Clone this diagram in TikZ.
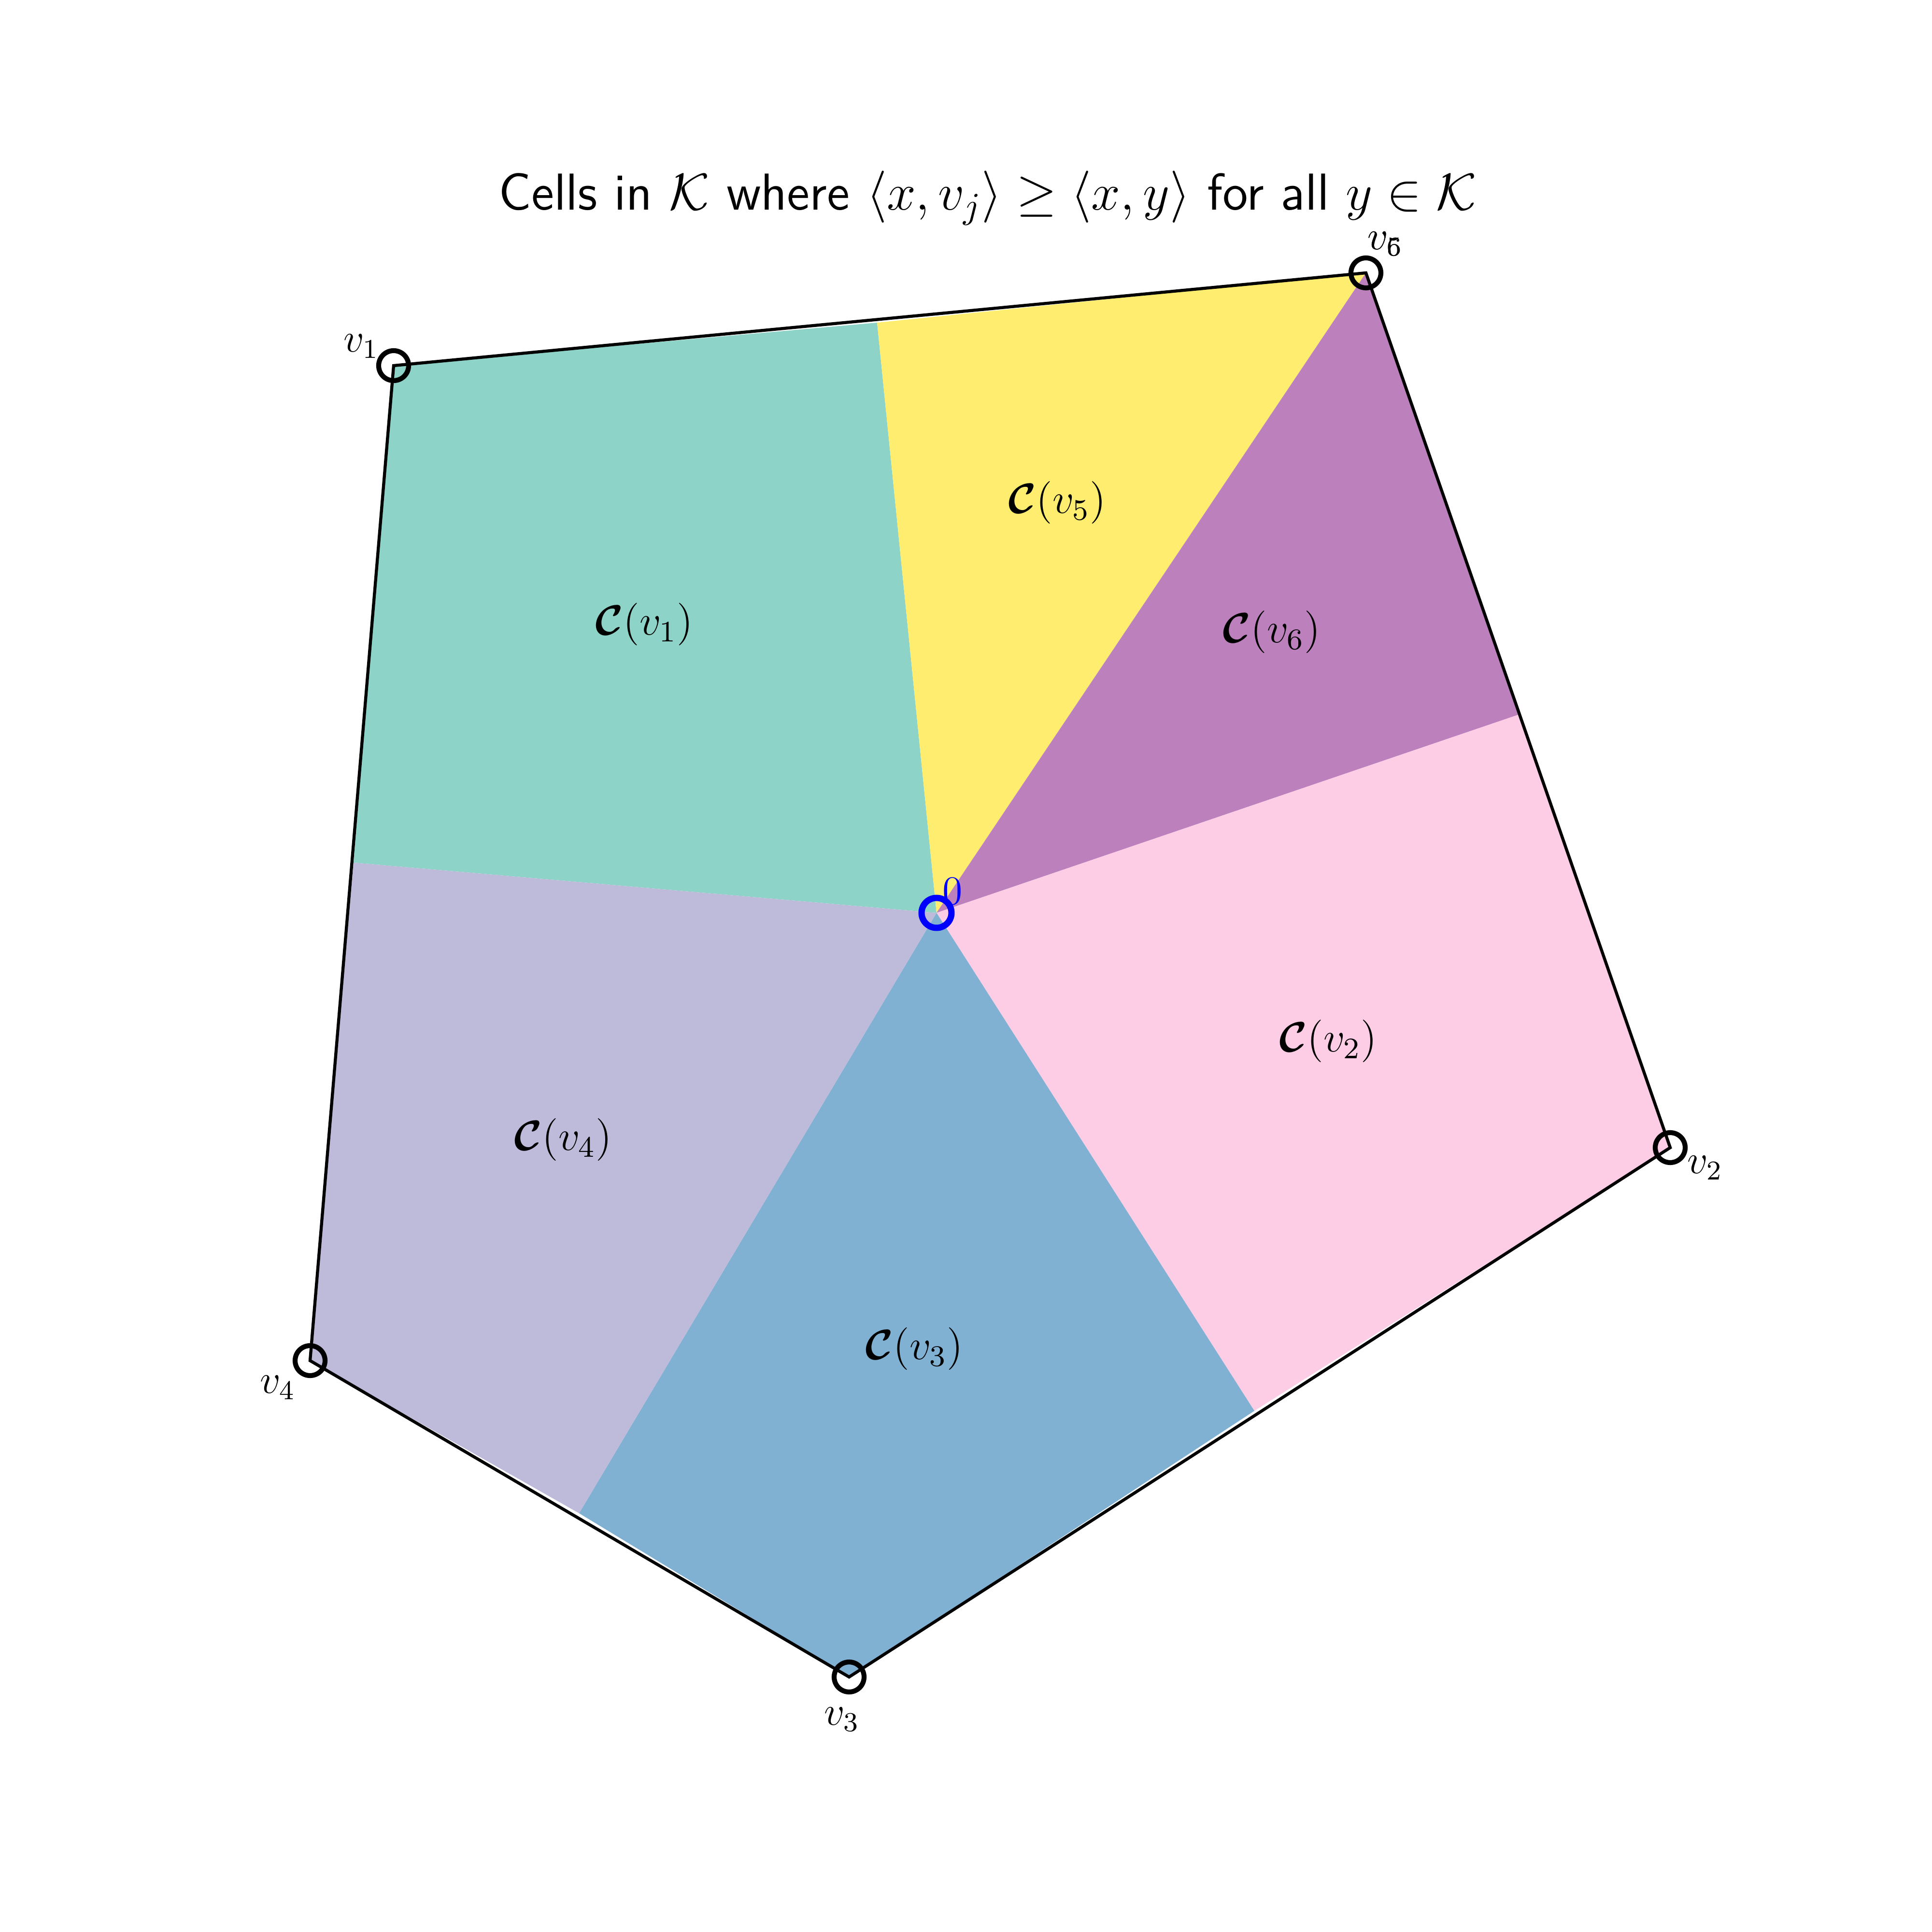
\RequirePackage{fix-cm}
\documentclass[tikz,border=0pt]{standalone}
\usepackage{amssymb}
\usepackage{amsmath}
\usepackage{bm}
\usepackage{xcolor}
\usetikzlibrary{positioning}
\definecolor{cellone}{HTML}{8DD3C7}
\definecolor{celltwo}{HTML}{FCCDE5}
\definecolor{cellthree}{HTML}{80B1D3}
\definecolor{cellfour}{HTML}{BEBADA}
\definecolor{cellfive}{HTML}{FFED6F}
\definecolor{cellsix}{HTML}{BC80BD}
\tikzset{
    vertex/.style={circle, draw, line width=1.45pt, inner sep=0pt, minimum size=3.1mm},
    origin/.style={circle, draw=blue, line width=1.85pt, inner sep=0pt, minimum size=3.1mm},
    vertex label/.style={font=\fontsize{12}{14.5}\selectfont, inner sep=0pt},
    cell label/.style={font=\fontsize{12.5}{15}\selectfont, inner sep=0pt},
    hull/.style={line width=0.9pt, line join=miter}
}

\begin{document}
\begin{tikzpicture}[x=2cm, y=2cm]
    \useasboundingbox (-4.8475,-5.275) rectangle (5.1525,4.725);

    % Κορυφές και σημεία ορίων των κελιών
    \coordinate (o) at (0,0);
    \coordinate (p1) at (-2.81,2.8325);
    \coordinate (p6) at (2.2225,3.3125);
    \coordinate (p2) at (3.7975,-1.215);
    \coordinate (p3) at (-0.4525,-3.955);
    \coordinate (p4) at (-3.2425,-2.3175);
    \coordinate (b15) at (-0.3075,3.055);
    \coordinate (b62) at (3.01,1.025);
    \coordinate (b23) at (1.645,-2.5775);
    \coordinate (b34) at (-1.85,-3.1075);
    \coordinate (b41) at (-3.0175,0.26);

    % Κελιά
    \fill[cellone] (o) -- (b41) -- (p1) -- (b15) -- cycle;
    \fill[cellfive] (o) -- (b15) -- (p6) -- cycle;
    \fill[cellsix] (o) -- (p6) -- (b62) -- cycle;
    \fill[celltwo] (o) -- (b62) -- (p2) -- (b23) -- cycle;
    \fill[cellthree] (o) -- (b23) -- (p3) -- (b34) -- cycle;
    \fill[cellfour] (o) -- (b34) -- (p4) -- (b41) -- cycle;

    % Σύνορο του K
    \draw[hull] (p1) -- (p6) -- (p2) -- (p3) -- (p4) -- cycle;

    % Σημεία
    \node[vertex] (v1) at (p1) {};
    \node[vertex] (v6) at (p6) {};
    \node[vertex] (v2) at (p2) {};
    \node[vertex] (v3) at (p3) {};
    \node[vertex] (v4) at (p4) {};
    \node[origin] (zero) at (o) {};

    % Ετικέτες
    \node[vertex label] (l1) at (-2.9775,2.9325) {$v_1$};
    \node[vertex label] (l5) at (2.3225,3.4625) {$v_5$};
    \node[vertex label] (l6) at (2.3225,3.4625) {$v_6$};
    \node[vertex label] (l2) at (3.9775,-1.32) {$v_2$};
    \node[vertex label] (l3) at (-0.49,-4.175) {$v_3$};
    \node[vertex label] (l4) at (-3.41,-2.4575) {$v_4$};
    \node[vertex label, text=blue] (l0) at (0.0825,0.1125) {$0$};

    \node[cell label] (c1) at (-1.5125,1.4925) {$\boldsymbol{\mathcal{C}}(v_1)$};
    \node[cell label] (c5) at (0.625,2.1225) {$\boldsymbol{\mathcal{C}}(v_5)$};
    \node[cell label] (c6) at (1.735,1.4525) {$\boldsymbol{\mathcal{C}}(v_6)$};
    \node[cell label] (c2) at (2.0275,-0.665) {$\boldsymbol{\mathcal{C}}(v_2)$};
    \node[cell label] (c3) at (-0.115,-2.2575) {$\boldsymbol{\mathcal{C}}(v_3)$};
    \node[cell label] (c4) at (-1.9325,-1.175) {$\boldsymbol{\mathcal{C}}(v_4)$};

    % Τίτλος
    \node[font=\fontsize{15.3}{18}\sffamily, inner sep=0pt] (title) at (0.265,3.7)
        {Cells in $\mathcal{K}$ where $\langle x, v_j\rangle \geq \langle x, y\rangle$ for all $y \in \mathcal{K}$};
\end{tikzpicture}
\end{document}
